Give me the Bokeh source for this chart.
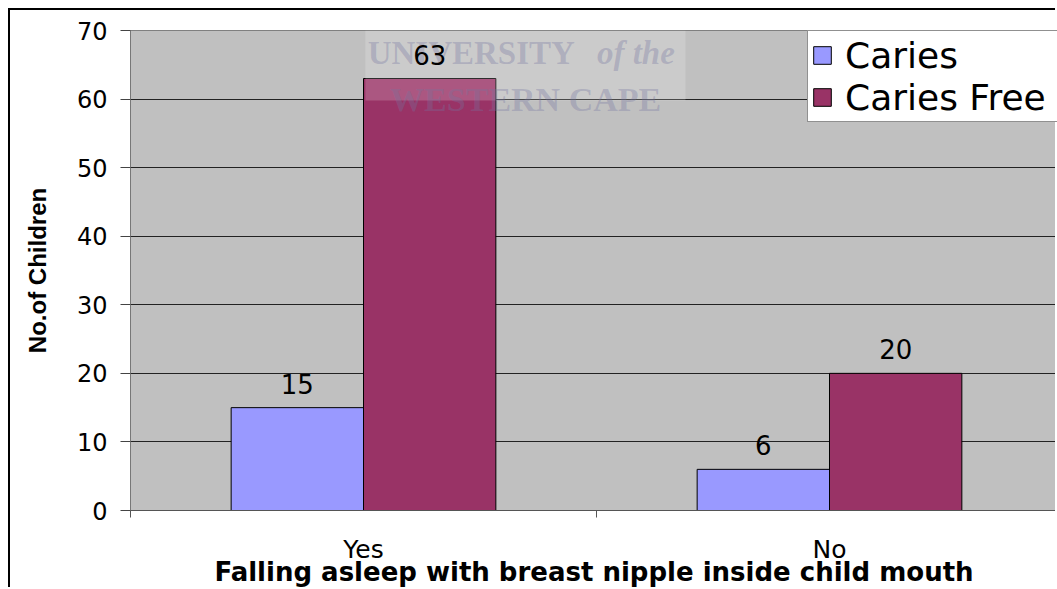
from bokeh.plotting import figure
from bokeh.models import (FixedTicker, Legend, LegendItem, BoxAnnotation, Label,
                          ColumnDataSource)
from bokeh.core.properties import value
from bokeh.embed import file_html
from bokeh.resources import INLINE

# ---- data ----
categories = ["Yes", "No"]
series_names = ["Caries", "Caries Free"]
caries = [15, 6]
caries_free = [63, 20]
y_ticks = [0, 10, 20, 30, 40, 50, 60, 70]
x_title = "Falling asleep with breast nipple inside child mouth"
y_title = "No.of Children"
colors = ["#9999FF", "#993366"]

# ---- layout constants ----
W, H = 1047, 579
bar_w = 0.284
x_end = 927 / 466

centers = [i + 0.5 for i in range(len(categories))]
src = ColumnDataSource(dict(
    x1=[c - bar_w / 2 for c in centers],
    x2=[c + bar_w / 2 for c in centers],
    caries=caries,
    caries_free=caries_free,
    lab1=[str(v) for v in caries],
    lab2=[str(v) for v in caries_free],
))

p = figure(width=W, height=H, output_backend="svg", toolbar_location=None,
           x_range=(0, x_end), y_range=(0, y_ticks[-1]),
           min_border_left=120, min_border_right=0, min_border_top=20,
           min_border_bottom=79)
p.styles = {"margin-left": "8px", "margin-top": "8px",
            "border-left": "2px solid black", "border-top": "2px solid black"}

p.background_fill_color = "#C0C0C0"
p.border_fill_color = "white"
p.outline_line_color = "#808080"
p.outline_line_width = 1

# grid
p.xgrid.grid_line_color = None
p.ygrid.grid_line_color = "#222222"
p.ygrid.grid_line_width = 1
p.ygrid.ticker = FixedTicker(ticks=y_ticks)

# bars
r1 = p.vbar(x="x1", top="caries", width=bar_w, bottom=0, source=src,
            fill_color=colors[0], line_color="black", line_width=1)
r2 = p.vbar(x="x2", top="caries_free", width=bar_w, bottom=0, source=src,
            fill_color=colors[1], line_color="black", line_width=1)

# data labels
for xcol, lcol, ycol in [("x1", "lab1", "caries"), ("x2", "lab2", "caries_free")]:
    t = p.text(x=xcol, y=ycol, text=lcol, source=src, text_align="center",
               text_baseline="bottom", y_offset=-14,
               text_font=value("DejaVu Sans"), text_font_size="26px",
               text_color="black")
    t.level = "overlay"

# x axis
xa = p.xaxis[0]
xa.ticker = FixedTicker(ticks=centers, minor_ticks=list(range(len(categories) + 1)))
xa.major_label_overrides = {c: cat for c, cat in zip(centers, categories)}
xa.major_tick_line_color = None
xa.major_tick_out = 0
xa.major_tick_in = 0
xa.minor_tick_out = 7
xa.minor_tick_in = 0
xa.minor_tick_line_color = "#555555"
xa.axis_line_color = "#555555"
xa.major_label_text_font = "DejaVu Sans"
xa.major_label_text_font_size = "25px"
xa.major_label_text_color = "black"
xa.major_label_standoff = 17
xa.axis_label = x_title
xa.axis_label_text_font = "DejaVu Sans"
xa.axis_label_text_font_style = "bold"
xa.axis_label_text_font_size = "26px"
xa.axis_label_text_color = "black"
xa.axis_label_standoff = -10

# y axis
ya = p.yaxis[0]
ya.ticker = FixedTicker(ticks=y_ticks)
ya.minor_tick_line_color = None
ya.major_tick_out = 10
ya.major_tick_in = 0
ya.major_tick_line_color = "#444444"
ya.axis_line_color = "#777777"
ya.major_label_text_font = "DejaVu Sans"
ya.major_label_text_font_size = "24px"
ya.major_label_text_color = "black"
ya.major_label_standoff = 13
ya.axis_label = y_title
ya.axis_label_text_font = "Liberation Sans"
ya.axis_label_text_font_style = "bold"
ya.axis_label_text_font_size = "24px"
ya.axis_label_text_color = "black"
ya.axis_label_standoff = 23

# watermark
p.add_layout(BoxAnnotation(left=0.504, right=1.191, bottom=59.8, top=None,
                           fill_color="white", fill_alpha=0.18, line_color=None,
                           level="annotation"))
wm_color = "#7474A0"
p.add_layout(Label(x=0.509, y=66.65, text="UNIVERSITY", text_font="Liberation Serif",
                   text_font_style="bold", text_font_size="33px",
                   text_color=wm_color, text_alpha=0.32, text_baseline="alphabetic"))
p.add_layout(Label(x=1.001, y=66.65, text="of the", text_font="Liberation Serif",
                   text_font_style="bold italic", text_font_size="33px",
                   text_color=wm_color, text_alpha=0.32, text_baseline="alphabetic"))
p.add_layout(Label(x=0.848, y=59.9, text="WESTERN CAPE", text_font="Liberation Serif",
                   text_font_style="bold", text_font_size="34px", text_align="center",
                   text_color=wm_color, text_alpha=0.32, text_baseline="alphabetic"))

# legend
legend = Legend(items=[LegendItem(label=series_names[0], renderers=[r1]),
                       LegendItem(label=series_names[1], renderers=[r2])],
                location=(677, 388))
legend.label_text_font = "DejaVu Sans"
legend.label_text_font_size = "36px"
legend.label_text_color = "black"
legend.glyph_width = 22
legend.glyph_height = 22
legend.label_height = 42
legend.label_width = 230
legend.label_standoff = 12
legend.padding = 3
legend.spacing = 0
legend.margin = 0
legend.border_line_color = "#222222"
legend.border_line_width = 1
legend.background_fill_color = "white"
legend.background_fill_alpha = 1
p.add_layout(legend, "center")

open("out.html", "w").write(file_html(p, INLINE))
